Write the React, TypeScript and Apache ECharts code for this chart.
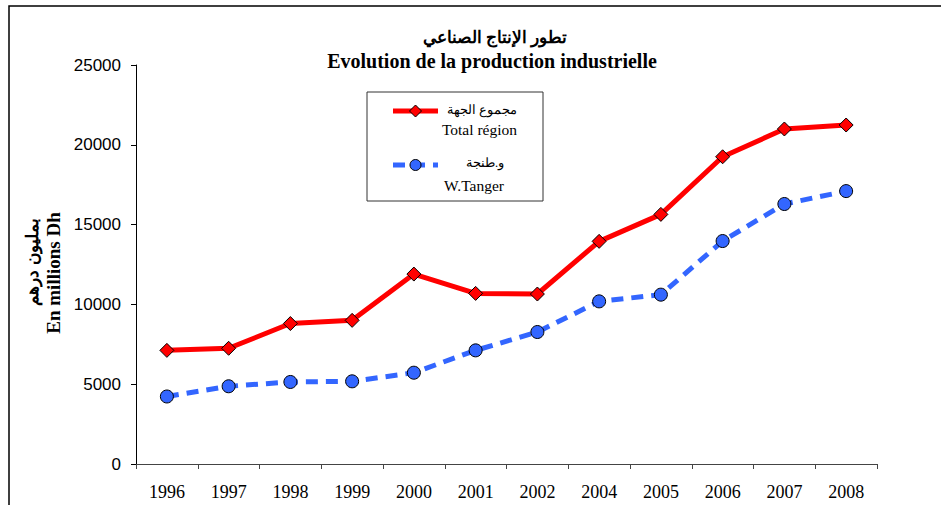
import React, { useEffect, useRef } from "react";
import * as echarts from "echarts";

const years = ["1996", "1997", "1998", "1999", "2000", "2001", "2002", "2004", "2005", "2006", "2007", "2008"];
const totalRegion = [7120, 7250, 8800, 9000, 11900, 10690, 10650, 13950, 15640, 19250, 20990, 21240];
const wTanger = [4230, 4870, 5140, 5180, 5720, 7120, 8270, 10190, 10610, 13970, 16290, 17100];
const yTicks = { min: 0, max: 25000, interval: 5000 };

const titleAr = "تطور الإنتاج الصناعي";
const titleFr = "Evolution de la production industrielle";
const legendAr1 = "مجموع الجهة";
const legendFr1 = "Total région";
const legendAr2 = "و.طنجة";
const legendFr2 = "W.Tanger";
const yNameAr = "بمليون درهم";
const yNameFr = "En millions Dh";

const RED = "#ff0000";
const BLUE = "#3366ff";
const SERIF = "'Liberation Serif', 'Times New Roman', serif";
const SANS = "'Liberation Sans', Arial, sans-serif";

export default function App() {
  const ref = useRef<HTMLDivElement>(null);
  useEffect(() => {
    if (!ref.current) return;
    const chart = echarts.init(ref.current, null, { renderer: "svg" });
    chart.setOption({
      animation: false,
      backgroundColor: "#ffffff",
      grid: { left: 136, right: 64, top: 65, bottom: 41 },
      xAxis: {
        type: "category",
        data: years,
        boundaryGap: true,
        axisLine: { lineStyle: { color: "#444", width: 1 } },
        axisTick: { show: true, inside: false, length: 5, lineStyle: { color: "#444" } },
        axisLabel: { color: "#000", fontFamily: SERIF, fontSize: 18, margin: 19 },
        splitLine: { show: false },
      },
      yAxis: {
        type: "value",
        min: yTicks.min,
        max: yTicks.max,
        interval: yTicks.interval,
        axisLine: { show: true, lineStyle: { color: "#000", width: 1 } },
        axisTick: { show: true, inside: false, length: 5, lineStyle: { color: "#000" } },
        axisLabel: { color: "#000", fontFamily: SANS, fontSize: 17, margin: 15, formatter: (v: number) => String(v) },
        splitLine: { show: false },
      },
      series: [
        {
          type: "line",
          name: legendFr1,
          data: totalRegion,
          symbol: "diamond",
          symbolSize: 14,
          lineStyle: { color: RED, width: 5 },
          itemStyle: { color: RED, borderColor: "#000", borderWidth: 1 },
          z: 3,
        },
        {
          type: "line",
          name: legendFr2,
          data: wTanger,
          symbol: "circle",
          symbolSize: 13,
          lineStyle: { color: BLUE, width: 5, type: [12, 8] },
          itemStyle: { color: BLUE, borderColor: "#000", borderWidth: 1 },
          z: 2,
        },
      ],
      graphic: [
        {
          type: "rect",
          shape: { x: 9, y: 6, width: 1200, height: 800 },
          style: { fill: "none", stroke: "#000", lineWidth: 1.5 },
          silent: true,
        },
        {
          type: "text",
          x: 495,
          y: 37,
          style: { text: titleAr, fontFamily: SERIF, fontSize: 17, fontWeight: "bold", fill: "#000", textAlign: "center", textVerticalAlign: "middle" },
        },
        {
          type: "text",
          x: 492,
          y: 61,
          style: { text: titleFr, fontFamily: SERIF, fontSize: 20, fontWeight: "bold", fill: "#000", textAlign: "center", textVerticalAlign: "middle" },
        },
        {
          type: "rect",
          shape: { x: 367, y: 92, width: 176, height: 109 },
          style: { fill: "#fff", stroke: "#333", lineWidth: 1 },
        },
        {
          type: "line",
          shape: { x1: 393, y1: 111, x2: 438, y2: 111 },
          style: { stroke: RED, lineWidth: 5 },
        },
        {
          type: "polygon",
          shape: { points: [[415.5, 105], [421.5, 111], [415.5, 117], [409.5, 111]] },
          style: { fill: RED, stroke: "#000", lineWidth: 1 },
        },
        {
          type: "text",
          x: 517,
          y: 110,
          style: { text: legendAr1, fontFamily: SERIF, fontSize: 12.5, fill: "#000", textAlign: "right", textVerticalAlign: "middle" },
        },
        {
          type: "text",
          x: 517,
          y: 129,
          style: { text: legendFr1, fontFamily: SERIF, fontSize: 15.5, fill: "#000", textAlign: "right", textVerticalAlign: "middle" },
        },
        {
          type: "line",
          shape: { x1: 393, y1: 165, x2: 438, y2: 165 },
          style: { stroke: BLUE, lineWidth: 5, lineDash: [12, 8] },
        },
        {
          type: "circle",
          shape: { cx: 415.5, cy: 165, r: 5.5 },
          style: { fill: BLUE, stroke: "#000", lineWidth: 1 },
        },
        {
          type: "text",
          x: 504,
          y: 163,
          style: { text: legendAr2, fontFamily: SERIF, fontSize: 12.5, fill: "#000", textAlign: "right", textVerticalAlign: "middle" },
        },
        {
          type: "text",
          x: 504,
          y: 185,
          style: { text: legendFr2, fontFamily: SERIF, fontSize: 15.5, fill: "#000", textAlign: "right", textVerticalAlign: "middle" },
        },
        {
          type: "text",
          x: 32,
          y: 262,
          rotation: Math.PI / 2,
          style: { text: yNameAr, fontFamily: SERIF, fontSize: 17, fontWeight: "bold", fill: "#000", textAlign: "center", textVerticalAlign: "middle" },
        },
        {
          type: "text",
          x: 53,
          y: 273,
          rotation: Math.PI / 2,
          style: { text: yNameFr, fontFamily: SERIF, fontSize: 19, fontWeight: "bold", fill: "#000", textAlign: "center", textVerticalAlign: "middle" },
        },
      ],
    });
    return () => chart.dispose();
  }, []);
  return <div ref={ref} style={{ position: "absolute", left: 0, top: 0, width: 941, height: 505 }} />;
}
